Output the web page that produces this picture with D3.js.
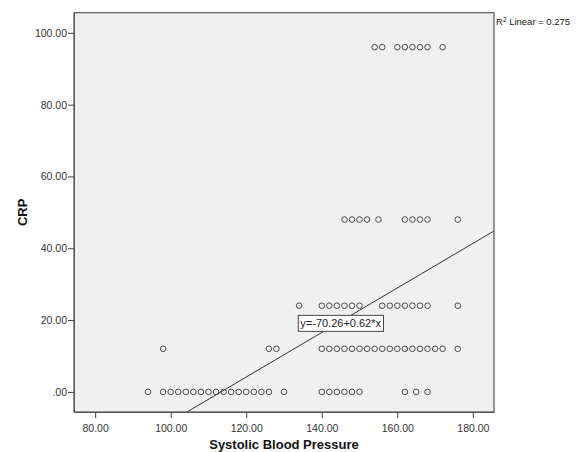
<!DOCTYPE html>
<html>
<head>
<meta charset="utf-8">
<script src="https://cdn.jsdelivr.net/npm/d3@7"></script>
<style>
  html, body { margin: 0; padding: 0; background: #ffffff; }
  svg { display: block; font-family: Arial, "Liberation Sans", sans-serif; }
</style>
</head>
<body>
<svg id="chart" width="578" height="452"></svg>
<script>
// ---- data ----
const crpLevels = [0, 12, 24, 48, 96];
const sbpAtCrp0  = [94, 98, 100, 102, 104, 106, 108, 110, 112, 114, 116, 118, 120, 122, 124, 126, 130, 140, 142, 144, 146, 148, 150, 162, 165, 168];
const sbpAtCrp12 = [98, 126, 128, 140, 142, 144, 146, 148, 150, 152, 154, 156, 158, 160, 162, 164, 166, 168, 170, 172, 176];
const sbpAtCrp24 = [134, 140, 142, 144, 146, 148, 150, 156, 158, 160, 162, 164, 166, 168, 176];
const sbpAtCrp48 = [146, 148, 150, 152, 155, 162, 164, 166, 168, 176];
const sbpAtCrp96 = [154, 156, 160, 162, 164, 166, 168, 172];
const xTicks = [80, 100, 120, 140, 160, 180];
const yTicks = [0, 20, 40, 60, 80, 100];
const fitIntercept = -70.26;
const fitSlope = 0.62;
const rSquared = 0.275;
const xTitle = "Systolic Blood Pressure";
const yTitle = "CRP";

(function () {
const rows = [sbpAtCrp0, sbpAtCrp12, sbpAtCrp24, sbpAtCrp48, sbpAtCrp96];
const points = [];
rows.forEach((r, i) => r.forEach(v => points.push({x: v, y: crpLevels[i]})));

// ---- layout ----
const svg = d3.select("#chart");
const pL = 74, pR = 494, pT = 12.7, pB = 412;

const x = d3.scaleLinear().domain([74.4, 185.6]).range([pL, pR]);
const y = d3.scaleLinear().domain([-5.6, 105.6]).range([pB, pT]);

const fmt = v => d3.format(".2f")(v).replace(/^0\./, ".");

// plot background
svg.append("rect")
  .attr("x", pL).attr("y", pT)
  .attr("width", pR - pL).attr("height", pB - pT)
  .attr("fill", "#f0f0f0");

svg.append("defs").append("clipPath").attr("id", "clip")
  .append("rect").attr("x", pL).attr("y", pT)
  .attr("width", pR - pL).attr("height", pB - pT);

// points
svg.append("g").selectAll("circle").data(points).join("circle")
  .attr("cx", d => x(d.x))
  .attr("cy", d => y(d.y))
  .attr("r", 2.8)
  .attr("fill", "none")
  .attr("stroke", "#4a4a4a")
  .attr("stroke-width", 1);

// regression line
const x0 = x.domain()[0], x1 = x.domain()[1];
svg.append("line")
  .attr("clip-path", "url(#clip)")
  .attr("x1", x(x0)).attr("y1", y(fitIntercept + fitSlope * x0))
  .attr("x2", x(x1)).attr("y2", y(fitIntercept + fitSlope * x1))
  .attr("stroke", "#333")
  .attr("stroke-width", 1);

// frame
svg.append("rect")
  .attr("x", pL).attr("y", pT)
  .attr("width", pR - pL).attr("height", pB - pT)
  .attr("fill", "none")
  .attr("stroke", "#555")
  .attr("stroke-width", 1.2);

// axes
const xAxis = d3.axisBottom(x).tickValues(xTicks).tickFormat(fmt).tickSize(6).tickSizeOuter(0);
const gx = svg.append("g").attr("transform", `translate(0,${pB})`).call(xAxis);
gx.select(".domain").attr("stroke", "#555");
gx.selectAll(".tick line").attr("stroke", "#444");
gx.selectAll(".tick text").attr("fill", "#333").attr("font-size", "10.5px")
  .attr("font-family", "Arial, 'Liberation Sans', sans-serif").attr("dy", "1.05em");

const yAxis = d3.axisLeft(y).tickValues(yTicks).tickFormat(fmt).tickSize(6).tickSizeOuter(0);
const gy = svg.append("g").attr("transform", `translate(${pL},0)`).call(yAxis);
gy.select(".domain").attr("stroke", "#555");
gy.selectAll(".tick line").attr("stroke", "#444");
gy.selectAll(".tick text").attr("fill", "#333").attr("font-size", "10.5px")
  .attr("font-family", "Arial, 'Liberation Sans', sans-serif").attr("x", -7);

// axis titles
svg.append("text")
  .attr("x", (pL + pR) / 2).attr("y", 449)
  .attr("text-anchor", "middle")
  .attr("font-weight", "bold").attr("font-size", "13px").attr("fill", "#111")
  .text(xTitle);

svg.append("text")
  .attr("transform", `translate(27,${(pT + pB) / 2}) rotate(-90)`)
  .attr("text-anchor", "middle")
  .attr("font-weight", "bold").attr("font-size", "13px").attr("fill", "#111")
  .text(yTitle);

// R² label
const rt = svg.append("text").attr("x", pR + 2).attr("y", 25)
  .attr("font-size", "9.5px").attr("fill", "#222");
rt.append("tspan").text("R");
rt.append("tspan").attr("font-size", "6.5px").attr("dy", "-0.45em").text("2");
rt.append("tspan").attr("dy", "0.3em").text(" Linear = " + rSquared);

// equation label
const labX = 145;
const eqG = svg.append("g")
  .attr("transform", `translate(${x(labX)},${y(fitIntercept + fitSlope * labX) + 2})`);
const eqText = eqG.append("text")
  .attr("text-anchor", "middle").attr("dy", "0.35em")
  .attr("font-size", "11px").attr("fill", "#222")
  .text(`y=${fitIntercept}+${fitSlope}*x`);
const bb = eqText.node().getBBox();
eqG.insert("rect", "text")
  .attr("x", bb.x - 2).attr("y", -8)
  .attr("width", bb.width + 4).attr("height", 16)
  .attr("fill", "#ffffff").attr("stroke", "#444").attr("stroke-width", 1);
})();
</script>
</body>
</html>
